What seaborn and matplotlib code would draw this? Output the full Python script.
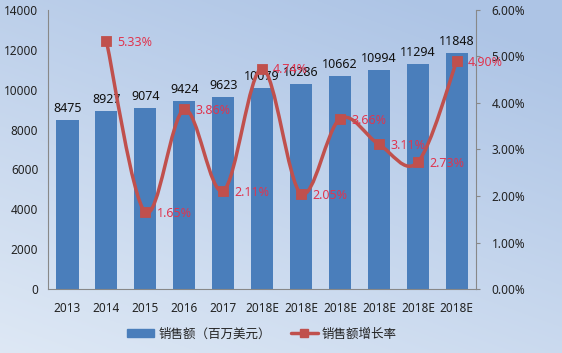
import numpy as np
import pandas as pd
import matplotlib
matplotlib.use("Agg")
from matplotlib import pyplot as plt
from matplotlib.path import Path
from matplotlib.patches import PathPatch, Patch
from matplotlib.lines import Line2D
import seaborn as sns

# data
years = ["2013", "2014", "2015", "2016", "2017", "2018E", "2018E", "2018E", "2018E", "2018E", "2018E"]
sales = [8475, 8927, 9074, 9424, 9623, 10079, 10286, 10662, 10994, 11294, 11848]
growth = [np.nan, 5.33, 1.65, 3.86, 2.11, 4.74, 2.05, 3.66, 3.11, 2.73, 4.90]

BAR = "#4a7ebb"
LINE = "#c0504d"
LABEL_RED = "#e0354f"

sns.set_style("white")
plt.rcParams["font.family"] = ["Noto Sans", "Noto Sans CJK SC", "DejaVu Sans"]

fig = plt.figure(figsize=(5.62, 3.53), dpi=100)

# gradient background
bg = fig.add_axes([0, 0, 1, 1], zorder=-10)
gx, gy = np.meshgrid(np.linspace(0, 1, 200), np.linspace(0, 1, 200))
t = np.clip(0.7 * gy + 0.4 * gx, 0, 1)
top = np.array([0.68, 0.77, 0.90])
bot = np.array([0.87, 0.91, 0.96])
img = bot[None, None, :] * (1 - t[..., None]) + top[None, None, :] * t[..., None]
bg.imshow(img, origin="lower", aspect="auto", extent=[0, 1, 0, 1])
bg.axis("off")

ax = fig.add_axes([0.0854, 0.181, 0.762, 0.791])
ax.patch.set_alpha(0)

df = pd.DataFrame({"x": np.arange(len(years)), "sales": sales, "growth": growth})
sns.barplot(x=df["x"], y=df["sales"], color=BAR, saturation=1, width=0.57, ax=ax,
            zorder=2, linewidth=0, edgecolor=BAR)
ax.set_ylim(0, 14000)
ax.set_yticks(range(0, 14001, 2000))
ax.set_xticks(range(len(years)))
ax.set_xticklabels(years)
ax.set_xlabel("")
ax.set_ylabel("")
ax.tick_params(axis="both", labelsize=8.5, colors="#222222", length=0, pad=7)
ax.tick_params(axis="x", pad=9)
for s in ["top", "right"]:
    ax.spines[s].set_visible(False)
ax.spines["left"].set_color("#888888")
ax.spines["bottom"].set_color("#888888")
ax.spines["left"].set_linewidth(0.8)
ax.spines["bottom"].set_linewidth(0.8)

for i, v in enumerate(sales):
    ax.text(i, v + 250, str(v), ha="center", va="bottom", fontsize=9, color="#111111", zorder=5)

ax2 = ax.twinx()
ax2.set_ylim(0, 6)
ax2.set_yticks(np.arange(0, 6.01, 1))
ax2.set_yticklabels([f"{v:.2f}%" for v in np.arange(0, 6.01, 1)])
ax2.tick_params(axis="y", labelsize=8.5, colors="#222222", length=3, pad=8)
ax2.tick_params(axis="y", color="#888888")
for s in ["top", "left", "bottom"]:
    ax2.spines[s].set_visible(False)
ax2.spines["right"].set_color("#888888")
ax2.spines["right"].set_linewidth(0.8)

# smoothed growth line (Catmull-Rom as cubic Bezier in data coords)
g = df.dropna()
px = g["x"].to_numpy(float)
py = g["growth"].to_numpy(float)
verts = [(px[0], py[0])]
codes = [Path.MOVETO]
n = len(px)
for i in range(n - 1):
    p0 = np.array([px[max(i - 1, 0)], py[max(i - 1, 0)]])
    p1 = np.array([px[i], py[i]])
    p2 = np.array([px[i + 1], py[i + 1]])
    p3 = np.array([px[min(i + 2, n - 1)], py[min(i + 2, n - 1)]])
    c1 = p1 + (p2 - p0) / 6
    c2 = p2 - (p3 - p1) / 6
    verts += [tuple(c1), tuple(c2), tuple(p2)]
    codes += [Path.CURVE4] * 3
ax2.add_patch(PathPatch(Path(verts, codes), facecolor="none", edgecolor=LINE, lw=2.5, zorder=3))
sns.scatterplot(x=g["x"], y=g["growth"], marker="s", s=55, color=LINE, edgecolor=LINE,
                ax=ax2, zorder=4, legend=False)
ax2.set_xlabel("")
ax2.set_ylabel("")
for xv, yv in zip(px, py):
    ax2.annotate(f"{yv:.2f}%", (xv, yv), xytext=(8, -1), textcoords="offset points",
                 ha="left", va="center", fontsize=9, color=LABEL_RED, zorder=5)
ax2.set_xlim(-0.5, len(years) - 0.5)

handles = [Patch(facecolor=BAR, edgecolor=BAR),
           Line2D([0], [0], color=LINE, lw=2.5, marker="s", markersize=6)]
fig.legend(handles, ["销售额（百万美元）", "销售额增长率"], loc="center",
           bbox_to_anchor=(0.466, 0.054), ncol=2, frameon=False, fontsize=9,
           handlelength=2.2, handletextpad=0.3, columnspacing=1.6, labelcolor="#222222")

fig.savefig("out.png", dpi=100)
